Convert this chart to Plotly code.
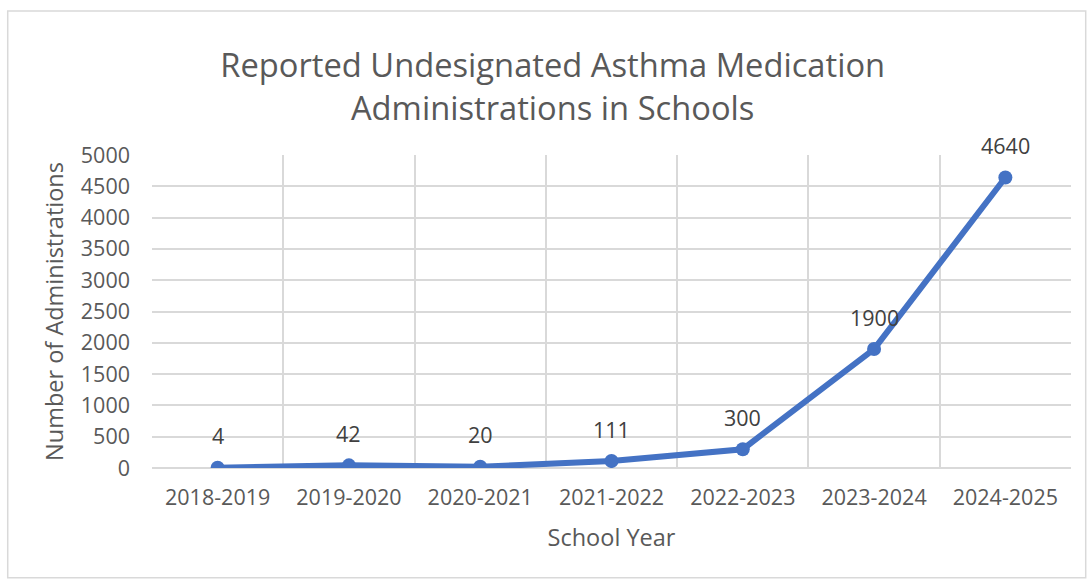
import plotly.graph_objects as go

# chart data
school_years = ['2018-2019', '2019-2020', '2020-2021', '2021-2022',
                '2022-2023', '2023-2024', '2024-2025']
administrations = [4, 42, 20, 111, 300, 1900, 4640]
y_ticks = [0, 500, 1000, 1500, 2000, 2500, 3000, 3500, 4000, 4500, 5000]

TEXT = '#595959'
GRID = '#d9d9d9'
BLUE = '#4472c4'
FONT = 'Open Sans'

fig = go.Figure()

fig.add_trace(go.Scatter(
    x=school_years,
    y=administrations,
    mode='lines+markers',
    line=dict(color=BLUE, width=6),
    marker=dict(color=BLUE, size=14),
    hovertemplate='%{x}: %{y}<extra></extra>'
))

# data labels sit well above each point, like Excel does
for yr, val in zip(school_years, administrations):
    fig.add_annotation(
        x=yr, y=val, text=str(val), showarrow=False,
        yshift=32, font=dict(size=21.5, color='#404040', family=FONT)
    )

# light frame around the whole chart
fig.add_shape(
    type='rect', xref='paper', yref='paper',
    x0=-0.157, x1=1.016, y0=-0.351, y1=1.46,
    line=dict(color=GRID, width=1.5), fillcolor='rgba(0,0,0,0)', layer='below'
)

fig.update_layout(
    width=1088, height=581,
    title=dict(
        text='Reported Undesignated Asthma Medication<br>Administrations in Schools',
        x=0.508, xanchor='center', y=0.867, yanchor='middle',
        font=dict(size=32.7, color=TEXT, family=FONT)
    ),
    xaxis=dict(
        type='category',
        tickson='boundaries',
        showgrid=True, gridcolor=GRID, gridwidth=1.5,
        showline=False, ticks='',
        range=[-0.5, 6.5],
        tickfont=dict(size=21.5, color=TEXT, family=FONT),
        ticklabelstandoff=14,
        title=dict(text='School Year', font=dict(size=23.5, color=TEXT, family=FONT), standoff=20)
    ),
    yaxis=dict(
        range=[0, 5000],
        tickvals=y_ticks,
        showgrid=True, gridcolor=GRID, gridwidth=1.5,
        zeroline=True, zerolinecolor=GRID, zerolinewidth=1.5,
        showline=False, ticks='',
        tickfont=dict(size=21.5, color=TEXT, family=FONT),
        ticklabelstandoff=21,
        title=dict(text='Number of Administrations', font=dict(size=23.5, color=TEXT, family=FONT), standoff=10)
    ),
    showlegend=False,
    paper_bgcolor='white',
    plot_bgcolor='white',
    margin=dict(l=152, r=17, t=155, b=113),
    font_family=FONT, font_color=TEXT
)

# drop the page's default body margin so the chart sits at the window's corner
fig.write_html('out.html', config={'displayModeBar': False},
               post_script="document.body.style.margin='0';")
